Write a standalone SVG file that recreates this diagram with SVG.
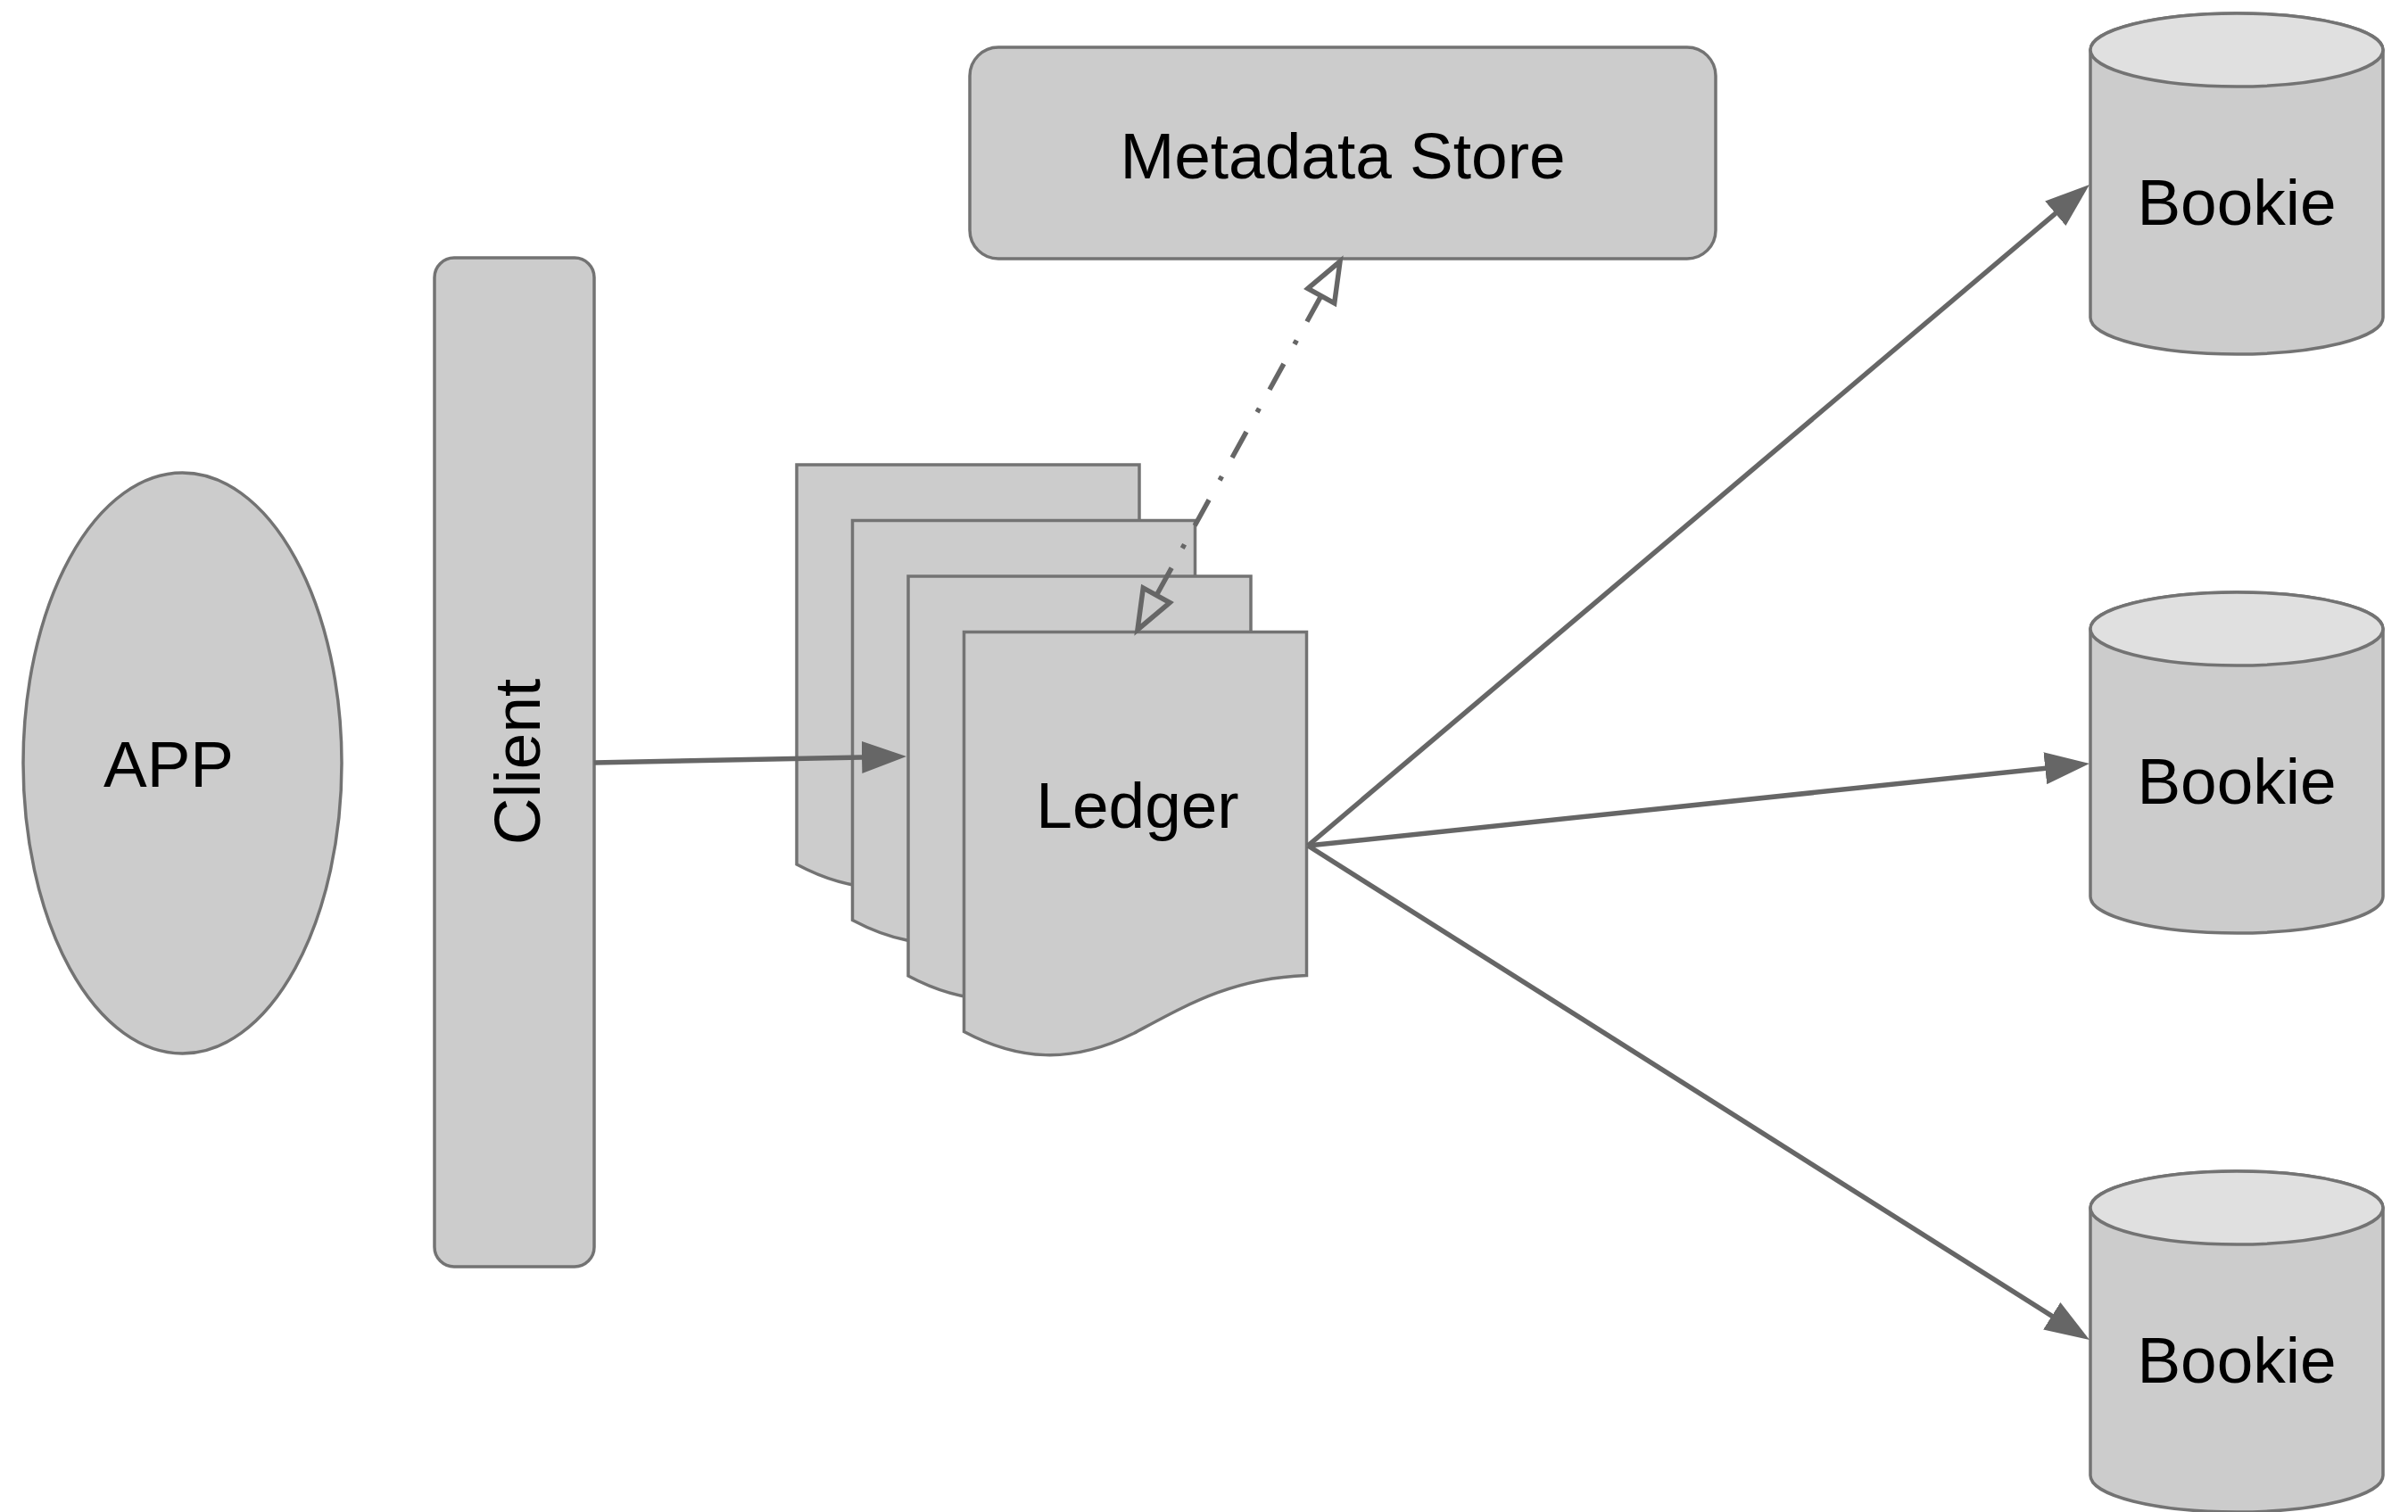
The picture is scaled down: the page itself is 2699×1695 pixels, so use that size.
<svg xmlns="http://www.w3.org/2000/svg" xmlns:xlink="http://www.w3.org/1999/xlink" width="2699" height="1695" viewBox="0 0 2699 1695">
  <style>
    .shape { fill: #cccccc; stroke: #737373; stroke-width: 3.5; }
    .cap { fill: #e0e0e0; stroke: #737373; stroke-width: 3.5; }
    .label { font-family: "Liberation Sans", Arial, sans-serif; font-size: 73px; fill: #000000; text-anchor: middle; }
    .conn { fill: none; stroke: #666666; stroke-width: 5.5; }
    .dashdot { stroke-dasharray: 33 24 5 25; }
  </style>
  <defs>
    <marker id="arrowFilled" markerUnits="userSpaceOnUse" viewBox="0 0 50 36" markerWidth="50" markerHeight="36" refX="38" refY="18" orient="auto">
      <path d="M0,0 L50,18 L0,36 Z" fill="#666666"/>
    </marker>
    <marker id="arrowOpen" markerUnits="userSpaceOnUse" viewBox="-4 -4 52 42" markerWidth="52" markerHeight="42" refX="0" refY="17" orient="auto-start-reverse" overflow="visible">
      <path d="M0,0 L44,17 L0,34 Z" fill="none" stroke="#666666" stroke-width="5.5" stroke-linejoin="miter"/>
    </marker>
    <path id="docshape" d="M0,0 H384 V385 C300,388 250,418 190,450 C120,485 60,480 0,448 Z"/>
    <path id="cylbody" d="M2343,41 V341 A164,41 0 0 0 2671,341 V41 A164,41 0 0 0 2343,41 Z"/>
  </defs>

  <rect width="2699" height="1695" fill="#ffffff"/>

  <g id="app">
    <ellipse class="shape" cx="204.5" cy="855.5" rx="178.5" ry="325.5"/>
    <text class="label" x="189" y="882">APP</text>
  </g>

  <g id="client">
    <rect class="shape" x="487" y="289" width="179" height="1131" rx="22" ry="22"/>
    <text class="label" transform="translate(605,854) rotate(-90)" x="0" y="0">Client</text>
  </g>

  <g id="metadata-store">
    <rect class="shape" x="1087" y="53" width="836" height="237" rx="32" ry="32"/>
    <text class="label" x="1505" y="200">Metadata Store</text>
  </g>

  <g id="ledger">
    <use xlink:href="#docshape" href="#docshape" class="shape" x="893" y="521"/>
    <use xlink:href="#docshape" href="#docshape" class="shape" x="955.5" y="583.5"/>
    <use xlink:href="#docshape" href="#docshape" class="shape" x="1018" y="646"/>
    <use xlink:href="#docshape" href="#docshape" class="shape" x="1080.5" y="708.5"/>
    <text class="label" x="1275" y="928">Ledger</text>
  </g>

  <g id="bookie-1" transform="translate(0,15)">
    <use xlink:href="#cylbody" href="#cylbody" class="shape"/>
    <ellipse class="cap" cx="2507" cy="41" rx="164" ry="41"/>
    <text class="label" x="2507" y="237">Bookie</text>
  </g>

  <g id="bookie-2" transform="translate(0,664)">
    <use xlink:href="#cylbody" href="#cylbody" class="shape"/>
    <ellipse class="cap" cx="2507" cy="41" rx="164" ry="41"/>
    <text class="label" x="2507" y="237">Bookie</text>
  </g>

  <g id="bookie-3" transform="translate(0,1313)">
    <use xlink:href="#cylbody" href="#cylbody" class="shape"/>
    <ellipse class="cap" cx="2507" cy="41" rx="164" ry="41"/>
    <text class="label" x="2507" y="237">Bookie</text>
  </g>

  <g id="connectors">
    <path class="conn" d="M666,855 L1004,848.2" marker-end="url(#arrowFilled)"/>
    <path class="conn" d="M1466,948 L2332.8,214.8" marker-end="url(#arrowFilled)"/>
    <path class="conn" d="M1466,948 L2330.1,857.3" marker-end="url(#arrowFilled)"/>
    <path class="conn" d="M1466,948 L2331.9,1495.6" marker-end="url(#arrowFilled)"/>
    <path class="conn dashdot" d="M1480.8,331.6 L1296.2,667.4" marker-start="url(#arrowOpen)" marker-end="url(#arrowOpen)"/>
  </g>
</svg>
